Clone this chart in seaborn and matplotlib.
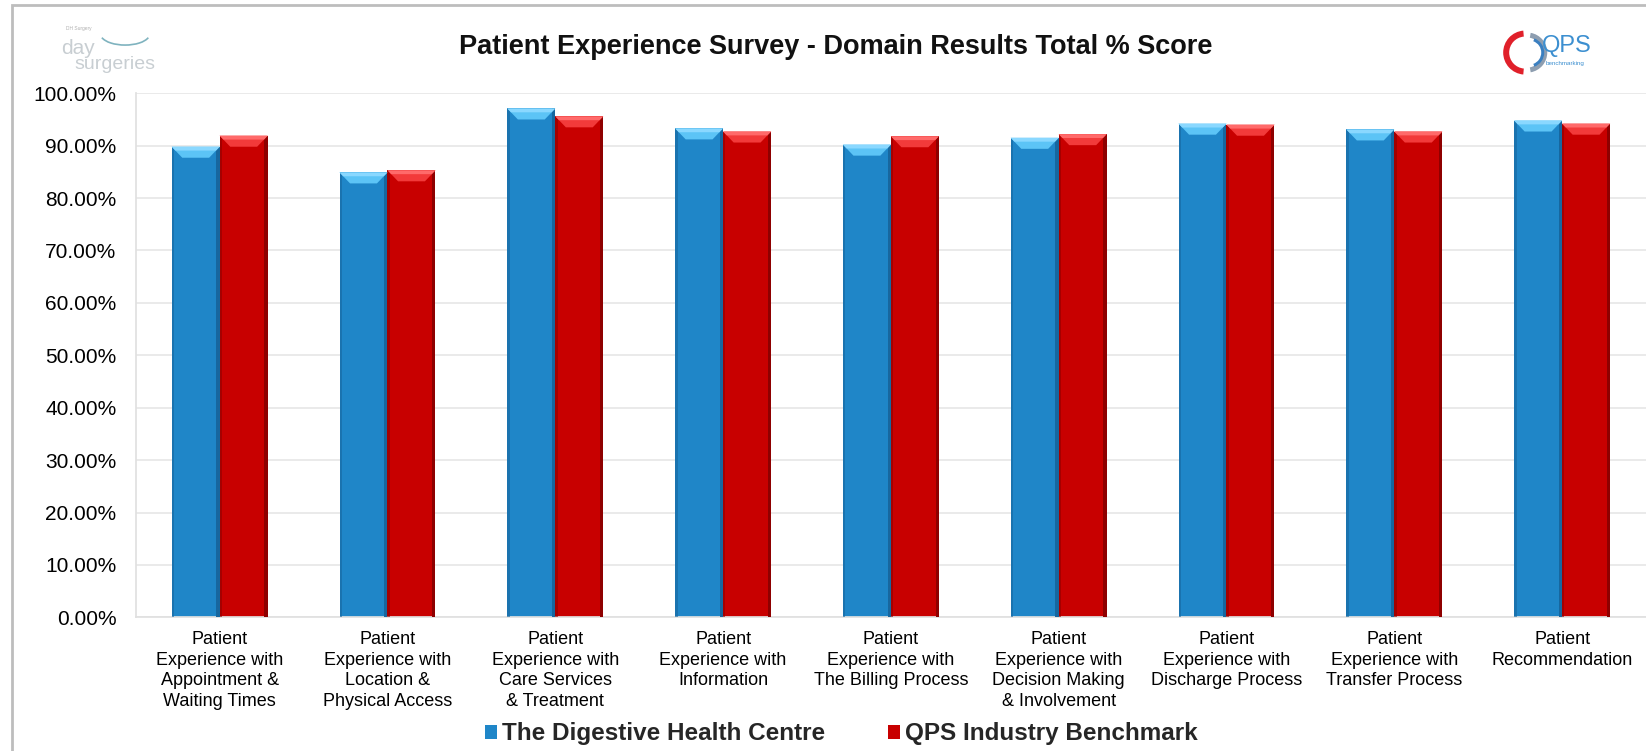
import numpy as np
import pandas as pd
import matplotlib
matplotlib.use("Agg")
import matplotlib.pyplot as plt
import seaborn as sns
from matplotlib.patches import Polygon, Rectangle, Arc, Wedge
from matplotlib.ticker import FuncFormatter, MultipleLocator

categories = [
    "Patient\nExperience with\nAppointment &\nWaiting Times",
    "Patient\nExperience with\nLocation &\nPhysical Access",
    "Patient\nExperience with\nCare Services\n& Treatment",
    "Patient\nExperience with\nInformation",
    "Patient\nExperience with\nThe Billing Process",
    "Patient\nExperience with\nDecision Making\n& Involvement",
    "Patient\nExperience with\nDischarge Process",
    "Patient\nExperience with\nTransfer Process",
    "Patient\nRecommendation",
]
series_names = ["The Digestive Health Centre", "QPS Industry Benchmark"]
centre_values = [89.8, 84.9, 97.1, 93.3, 90.2, 91.5, 94.2, 93.1, 94.8]
benchmark_values = [91.9, 85.3, 95.6, 92.7, 91.8, 92.2, 94.0, 92.7, 94.2]

colors = ["#1F86C8", "#C80000"]
light_colors = ["#5CC4F6", "#F23A3A"]
top_colors = ["#8AD8FF", "#FF6A6A"]
dark_colors = ["#17679F", "#8E0000"]

df = pd.DataFrame({
    "Category": categories * 2,
    "Series": [series_names[0]] * len(categories) + [series_names[1]] * len(categories),
    "Value": centre_values + benchmark_values,
})

sns.set_theme(style="white")
plt.rcParams["font.family"] = ["Liberation Sans", "DejaVu Sans"]

fig = plt.figure(figsize=(16.46, 7.51), dpi=100)
ax = fig.add_axes([0.0825, 0.178, 0.9175, 0.6978])

sns.barplot(data=df, x="Category", y="Value", hue="Series", order=categories,
            hue_order=series_names, palette=colors, width=0.572, gap=0,
            saturation=1, ax=ax, legend=False, edgecolor="none", linewidth=0)

# bevel decoration derived from the drawn bar patches
n = len(categories)
bevel = 2.1
for i, patch in enumerate(ax.patches[:2 * n]):
    s = i // n
    x0 = patch.get_x()
    w = patch.get_width()
    h = patch.get_height()
    inset = w * 0.22
    ax.add_patch(Rectangle((x0, 0), w * 0.05, h, facecolor=dark_colors[s],
                           edgecolor="none", alpha=0.6, zorder=3))
    ax.add_patch(Rectangle((x0 + w * 0.93, 0), w * 0.07, h, facecolor=dark_colors[s],
                           edgecolor="none", zorder=3))
    ax.add_patch(Polygon([[x0, h], [x0 + w, h], [x0 + w - inset, h - bevel],
                          [x0 + inset, h - bevel]], closed=True,
                         facecolor=light_colors[s], edgecolor="none", zorder=4))
    ax.add_patch(Polygon([[x0, h], [x0 + w, h], [x0 + w - inset * 0.35, h - bevel * 0.35],
                          [x0 + inset * 0.35, h - bevel * 0.35]], closed=True,
                         facecolor=top_colors[s], edgecolor="none", zorder=4))

ax.set_ylim(0, 100)
ax.set_xlim(-0.5, n - 0.5)
ax.yaxis.set_major_locator(MultipleLocator(10))
ax.yaxis.set_major_formatter(FuncFormatter(lambda v, p: f"{v:.2f}%"))
ax.grid(axis="y", color="#E6E6E6", linewidth=1.2)
ax.set_axisbelow(True)
for side in ["top", "right"]:
    ax.spines[side].set_visible(False)
ax.spines["left"].set_color("#E0E0E0")
ax.spines["bottom"].set_color("#E0E0E0")
ax.tick_params(axis="y", labelsize=15, colors="#000000", length=0, pad=14)
ax.tick_params(axis="x", labelsize=13, colors="#000000", length=0, pad=10)
for lbl in ax.get_xticklabels():
    lbl.set_linespacing(1.28)
ax.set_xlabel("")
ax.set_ylabel("")

fig.text(0.508, 0.938, "Patient Experience Survey - Domain Results Total % Score",
         ha="center", va="center", fontsize=19.5, fontweight="bold", color="#111111")

# legend
handles = [Rectangle((0, 0), 1, 1, facecolor=c, edgecolor="none") for c in colors]
fig.legend(handles, series_names, loc="center", bbox_to_anchor=(0.511, 0.023), ncol=2,
           frameon=False, prop={"weight": "bold", "size": 17.5}, handlelength=0.5,
           handleheight=0.5, handletextpad=0.2, columnspacing=2.6)

# frame border
fig.patches.append(Rectangle((0.0075, -0.01), 1.0, 1.003, transform=fig.transFigure,
                             fill=False, edgecolor="#BDBDBD", linewidth=2))

# day surgeries logo (approximate)
fig.text(0.037, 0.935, "day", fontsize=15, color="#C8CED2", ha="left", va="center")
fig.text(0.045, 0.914, "surgeries", fontsize=14, color="#C8CED2", ha="left", va="center")
fig.text(0.040, 0.962, "DH Surgery", fontsize=3.5, color="#B0B0B0", ha="left", va="center")
fig.add_artist(Arc((0.076, 0.955), 0.03, 0.03, theta1=200, theta2=340, transform=fig.transFigure,
                   color="#7FB3BF", linewidth=1.2))

# QPS logo (approximate) in an equal-aspect helper axes
lax = fig.add_axes([0.885, 0.87, 0.11, 0.12])
lax.set_xlim(0, 110)
lax.set_ylim(0, 90)
lax.set_aspect("equal")
lax.axis("off")
lax.add_patch(Wedge((33, 45), 22, 95, 265, width=6, facecolor="#E0202A", edgecolor="none"))
lax.add_patch(Wedge((35, 45), 20, -80, 80, width=5, facecolor="#8E9EB0", edgecolor="none"))
lax.add_patch(Wedge((37, 45), 15, -70, 70, width=3, facecolor="#3A7FC0", edgecolor="none"))
lax.text(50, 52, "QPS", fontsize=17, color="#3C8FD0", ha="left", va="center")
lax.text(53, 34, "benchmarking", fontsize=4.5, color="#3C8FD0", ha="left", va="center")

fig.savefig("out.png", dpi=100)
